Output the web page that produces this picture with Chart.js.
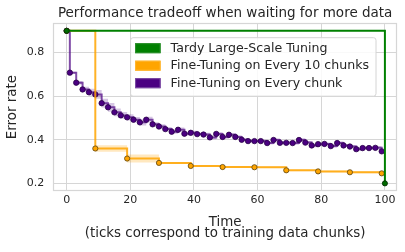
<!DOCTYPE html>
<html>
<head>
<meta charset="utf-8">
<script src="https://cdn.jsdelivr.net/npm/chart.js@4.4.0/dist/chart.umd.min.js"></script>
<style>
  body { margin: 0; background: #fff; }
  canvas { display: block; }
</style>
</head>
<body>
<canvas id="chart" width="405" height="252"></canvas>
<script>
// values
var xTicks = [0, 20, 40, 60, 80, 100];
var yTicks = [0.2, 0.4, 0.6, 0.8];

var greenX = [0, 100];
var greenY = [0.9, 0.2];

var orangeX = [0, 9, 19, 29, 39, 49, 59, 69, 79, 89, 99];
var orangeY = [0.9, 0.36, 0.314, 0.294, 0.28, 0.275, 0.274, 0.26, 0.255, 0.251, 0.246];
var orangeSpread = [0, 0.015, 0.018, 0.004, 0.004, 0.004, 0.004, 0.004, 0.004, 0.005, 0.005];

var purpleX = [0, 1, 3, 5, 7, 9, 11, 13, 15, 17, 19,
  21, 23, 25, 27, 29, 31, 33, 35, 37, 39,
  41, 43, 45, 47, 49, 51, 53, 55, 57, 59,
  61, 63, 65, 67, 69, 71, 73, 75, 77, 79,
  81, 83, 85, 87, 89, 91, 93, 95, 97, 99];
var purpleY = [0.9, 0.708, 0.662, 0.631, 0.618, 0.608, 0.568, 0.549, 0.526, 0.512, 0.503,
  0.492, 0.480, 0.492, 0.471, 0.461, 0.449, 0.437, 0.446, 0.428, 0.432,
  0.426, 0.424, 0.411, 0.427, 0.413, 0.423, 0.413, 0.400, 0.394, 0.394,
  0.394, 0.385, 0.399, 0.386, 0.386, 0.385, 0.399, 0.387, 0.374, 0.380,
  0.381, 0.371, 0.385, 0.374, 0.369, 0.357, 0.362, 0.362, 0.363, 0.347];
var purpleSpread = [0, 0.004, 0.008, 0.012, 0.016, 0.02, 0.02, 0.02, 0.018, 0.016, 0.014,
  0.012, 0.014, 0.014, 0.01, 0.01, 0.01, 0.009, 0.01, 0.009, 0.009,
  0.008, 0.008, 0.008, 0.009, 0.008, 0.008, 0.008, 0.007, 0.007, 0.007,
  0.007, 0.007, 0.008, 0.008, 0.008, 0.008, 0.009, 0.008, 0.008, 0.007,
  0.007, 0.007, 0.008, 0.007, 0.007, 0.008, 0.008, 0.009, 0.009, 0.008];

var legendItems = [
  { label: "Tardy Large-Scale Tuning", fill: "#008000", edge: "#2f8f2f" },
  { label: "Fine-Tuning on Every 10 chunks", fill: "#FFA500", edge: "#ffb733" },
  { label: "Fine-Tuning on Every chunk", fill: "#4B0082", edge: "#7d4fa6" }
];

var FONT = "'DejaVu Sans', sans-serif";
var TEXT = "#262626";
var GRID = "#d6d6d6";

function points(xs, ys, offs, sign) {
  var out = [];
  for (var i = 0; i < xs.length; i++) {
    out.push({ x: xs[i], y: ys[i] + (offs ? sign * offs[i] : 0) });
  }
  return out;
}

function band(xs, ys, spread, color, order) {
  return [
    { data: points(xs, ys, spread, 1), stepped: true, borderWidth: 0, pointRadius: 0, fill: false, order: order },
    { data: points(xs, ys, spread, -1), stepped: true, borderWidth: 0, pointRadius: 0, fill: "-1", backgroundColor: color, order: order }
  ];
}

var datasets = [
  {
    data: points(greenX, greenY), stepped: true, borderColor: "#008000", borderWidth: 2,
    pointRadius: 2.6, pointBackgroundColor: "#006a00", pointBorderColor: "#002800", pointBorderWidth: 0.8, order: 0
  },
  {
    data: points(orangeX, orangeY), stepped: true, borderColor: "rgba(255,165,0,0.85)", borderWidth: 2,
    pointRadius: 2.6, pointBackgroundColor: "#FFA500", pointBorderColor: "#5a4210", pointBorderWidth: 0.8, order: 1
  },
  {
    data: points(purpleX, purpleY), stepped: true, borderColor: "rgba(75,0,130,0.7)", borderWidth: 2,
    pointRadius: 2.7, pointBackgroundColor: "#4B0082", pointBorderColor: "#2a0048", pointBorderWidth: 0.8, order: 2
  }
].concat(band(orangeX, orangeY, orangeSpread, "rgba(255,165,0,0.25)", 3))
 .concat(band(purpleX, purpleY, purpleSpread, "rgba(75,0,130,0.22)", 4));

// frame around the plot and the boxed legend inside it
var frameAndLegend = {
  id: "frameAndLegend",
  beforeDatasetsDraw: function(chart) {
    var ctx = chart.ctx, a = chart.chartArea;
    ctx.save();
    ctx.strokeStyle = GRID;
    ctx.lineWidth = 1.2;
    ctx.strokeRect(Math.round(a.left) + 0.5, Math.round(a.top) + 0.5,
      Math.round(a.right - a.left) - 1, Math.round(a.bottom - a.top) - 1);
    ctx.restore();
  },
  afterDatasetsDraw: function(chart) {
    var ctx = chart.ctx, a = chart.chartArea;
    ctx.save();
    ctx.font = "12.6px " + FONT;
    var maxW = 0;
    legendItems.forEach(function(it) { maxW = Math.max(maxW, ctx.measureText(it.label).width); });
    var w = 40 + maxW + 7, h = 58.5;
    var right = a.right - 21.5, top = a.top + 14;
    var left = right - w;
    ctx.fillStyle = "rgba(255,255,255,0.85)";
    ctx.strokeStyle = "#d4d4d4";
    ctx.lineWidth = 1;
    ctx.beginPath();
    ctx.roundRect(left + 0.5, top + 0.5, w, h, 2.5);
    ctx.fill();
    ctx.stroke();
    legendItems.forEach(function(it, i) {
      var cy = top + 11 + i * 17.5;
      ctx.fillStyle = it.fill;
      ctx.strokeStyle = it.edge;
      ctx.fillRect(left + 5, cy - 5, 25.5, 10);
      ctx.strokeRect(left + 5.5, cy - 4.5, 24.5, 9);
      ctx.fillStyle = TEXT;
      ctx.textBaseline = "middle";
      ctx.fillText(it.label, left + 40.5, cy + 0.5);
    });
    ctx.restore();
  }
};

new Chart(document.getElementById("chart").getContext("2d"), {
  type: "line",
  data: { datasets: datasets },
  plugins: [frameAndLegend],
  options: {
    responsive: false,
    animation: false,
    layout: { padding: { left: 0, right: 8, top: 0, bottom: 0 } },
    plugins: {
      legend: { display: false },
      tooltip: { enabled: false },
      title: {
        display: true, fullSize: false,
        text: "Performance tradeoff when waiting for more data",
        color: TEXT, font: { family: FONT, size: 13.5, weight: "normal" },
        padding: { top: 5, bottom: 2 }
      }
    },
    scales: {
      x: {
        type: "linear", min: -4.2, max: 103.8,
        afterBuildTicks: function(s) { s.ticks = xTicks.map(function(v) { return { value: v }; }); },
        afterFit: function(s) { s.height = 61; },
        grid: { color: GRID, drawTicks: false },
        border: { display: false },
        ticks: { color: TEXT, font: { family: FONT, size: 11 }, padding: 3, maxRotation: 0 },
        title: {
          display: true,
          text: ["Time", "(ticks correspond to training data chunks)"],
          color: TEXT, font: { family: FONT, size: 13.4, lineHeight: 0.82 },
          padding: { top: 0, bottom: 12.6 }
        }
      },
      y: {
        min: 0.165, max: 0.935,
        afterBuildTicks: function(s) { s.ticks = yTicks.map(function(v) { return { value: v }; }); },
        afterFit: function(s) { s.width = 53.3; },
        grid: { color: GRID, drawTicks: false },
        border: { display: false },
        ticks: { color: TEXT, font: { family: FONT, size: 11 }, padding: 9,
          callback: function(v) { return v.toFixed(1); } },
        title: {
          display: true, text: "Error rate",
          color: TEXT, font: { family: FONT, size: 13.4 },
          padding: { top: 4, bottom: 0 }
        }
      }
    }
  }
});
</script>
</body>
</html>
